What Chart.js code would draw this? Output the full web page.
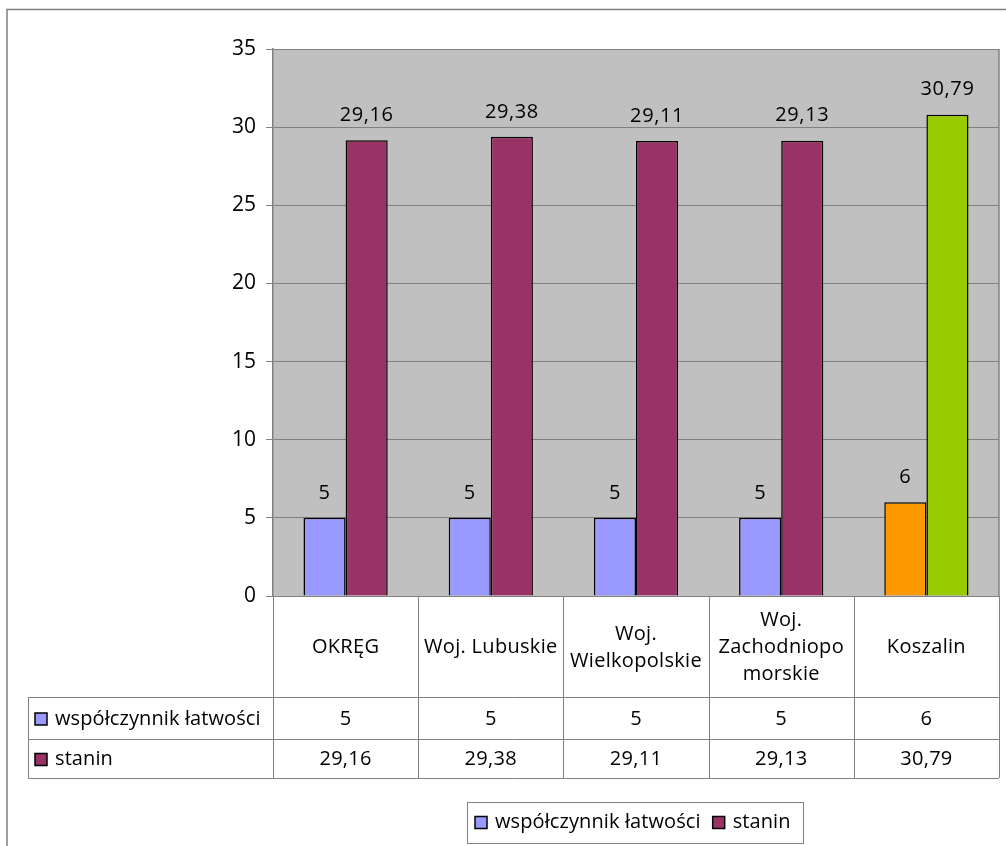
<!DOCTYPE html>
<html>
<head>
<meta charset="utf-8">
<script src="https://cdn.jsdelivr.net/npm/chart.js@4"></script>
<style>
  body { margin: 0; background: #fff; }
  #wrap { width: 1006px; height: 846px; position: relative; }
</style>
</head>
<body>
<div id="wrap"><canvas id="chart"></canvas></div>
<script>
// chart data
const categories = [
  ["OKRĘG"],
  ["Woj. Lubuskie"],
  ["Woj.", "Wielkopolskie"],
  ["Woj.", "Zachodniopo", "morskie"],
  ["Koszalin"],
];
const seriesNames = ["współczynnik łatwości", "stanin"];
const latwosc = [5, 5, 5, 5, 6];
const stanin = [29.16, 29.38, 29.11, 29.13, 30.79];
const yTicks = [0, 5, 10, 15, 20, 25, 30, 35];

const FONT = "'Open Sans', sans-serif";
const blue = "#9999FF";
const purple = "#993366";

// Polish decimal comma
function fmt(v) {
  return String(v).replace(".", ",");
}

// Excel-like extras: gray plot area, labels, data table, legend
const excelPlugin = {
  id: "excel",
  beforeDraw(chart) {
    const ctx = chart.ctx;
    const a = chart.chartArea;
    ctx.save();
    ctx.fillStyle = "#C0C0C0";
    ctx.fillRect(a.left, a.top, a.right - a.left, a.bottom - a.top);
    // outer chart border
    ctx.strokeStyle = "#808080";
    ctx.lineWidth = 1.5;
    ctx.strokeRect(7, 9.5, 1200, 1200);
    ctx.restore();
  },
  afterDraw(chart) {
    const ctx = chart.ctx;
    const a = chart.chartArea;
    const xs = chart.scales.x;
    const n = categories.length;
    const w = (a.right - a.left) / n;
    ctx.save();

    // right border of plot area
    ctx.strokeStyle = "#808080";
    ctx.lineWidth = 1.5;
    ctx.beginPath();
    ctx.moveTo(a.right, a.top);
    ctx.lineTo(a.right, a.bottom);
    ctx.stroke();

    // value labels above bars
    ctx.fillStyle = "#000";
    ctx.font = "20px " + FONT;
    ctx.letterSpacing = "0.6px";
    ctx.textAlign = "center";
    ctx.textBaseline = "middle";
    chart.data.datasets.forEach((ds, di) => {
      chart.getDatasetMeta(di).data.forEach((bar, i) => {
        ctx.fillText(fmt(ds.data[i]), bar.x, bar.y - 25);
      });
    });

    // data table
    const top = a.bottom;
    const catBottom = top + 101;
    const row1 = catBottom + 42;
    const row2 = row1 + 39;
    const tableLeft = 28;
    ctx.strokeStyle = "#808080";
    ctx.lineWidth = 1;
    ctx.beginPath();
    for (let i = 0; i <= n; i++) {
      const x = Math.round(a.left + i * w) + 0.5;
      ctx.moveTo(x, top);
      ctx.lineTo(x, row2);
    }
    ctx.moveTo(tableLeft + 0.5, catBottom);
    ctx.lineTo(tableLeft + 0.5, row2);
    [catBottom, row1, row2].forEach((y) => {
      ctx.moveTo(tableLeft, y + 0.5);
      ctx.lineTo(a.right, y + 0.5);
    });
    ctx.stroke();

    ctx.fillStyle = "#000";
    ctx.textAlign = "center";
    ctx.letterSpacing = "0.3px";
    const lineH = 27;
    categories.forEach((lines, i) => {
      const cx = xs.getPixelForValue(i);
      const cy = (top + catBottom) / 2 + 1;
      const y0 = cy - ((lines.length - 1) * lineH) / 2;
      lines.forEach((t, k) => ctx.fillText(t, cx, y0 + k * lineH));
      ctx.fillText(fmt(latwosc[i]), cx, (catBottom + row1) / 2 + 1);
      ctx.fillText(fmt(stanin[i]), cx, (row1 + row2) / 2 + 1);
    });

    // series keys in table
    const keyColors = [blue, purple];
    const rowMid = [(catBottom + row1) / 2 + 1, (row1 + row2) / 2 + 1];
    ctx.textAlign = "left";
    ctx.letterSpacing = "0.1px";
    seriesNames.forEach((name, s) => {
      const y = rowMid[s];
      ctx.fillStyle = keyColors[s];
      ctx.fillRect(35, y - 6, 12, 12);
      ctx.strokeStyle = "#000";
      ctx.lineWidth = 1.5;
      ctx.strokeRect(35, y - 6, 12, 12);
      ctx.fillStyle = "#000";
      ctx.fillText(name, 55, y);
    });

    // bottom legend
    const lx = 467, ly = 802, lw = 336, lh = 41;
    ctx.fillStyle = "#fff";
    ctx.fillRect(lx, ly, lw, lh);
    ctx.strokeStyle = "#808080";
    ctx.lineWidth = 1;
    ctx.strokeRect(lx + 0.5, ly + 0.5, lw, lh);
    let x = 475;
    const my = ly + lh / 2;
    seriesNames.forEach((name, s) => {
      ctx.fillStyle = keyColors[s];
      ctx.fillRect(x, my - 6, 12, 12);
      ctx.strokeStyle = "#000";
      ctx.lineWidth = 1.5;
      ctx.strokeRect(x, my - 6, 12, 12);
      ctx.fillStyle = "#000";
      ctx.fillText(name, x + 20, my);
      x += 20 + ctx.measureText(name).width + 12;
    });

    ctx.restore();
  },
};

new Chart(document.getElementById("chart"), {
  type: "bar",
  data: {
    labels: categories,
    datasets: [
      {
        label: seriesNames[0],
        data: latwosc,
        backgroundColor: [blue, blue, blue, blue, "#FF9900"],
        borderColor: "#000",
        borderWidth: 1.5,
      },
      {
        label: seriesNames[1],
        data: stanin,
        backgroundColor: [purple, purple, purple, purple, "#99CC00"],
        borderColor: "#000",
        borderWidth: 1.5,
      },
    ],
  },
  options: {
    responsive: true,
    maintainAspectRatio: false,
    animation: false,
    categoryPercentage: 0.58,
    barPercentage: 1,
    layout: { padding: { top: 49, right: 7, bottom: 250, left: 0 } },
    plugins: {
      legend: { display: false },
      tooltip: { enabled: false },
    },
    scales: {
      x: { display: false },
      y: {
        min: 0,
        max: 35,
        afterBuildTicks: (axis) => {
          axis.ticks = yTicks.map((v) => ({ value: v }));
        },
        afterFit: (axis) => {
          axis.width = 273;
        },
        ticks: {
          color: "#000",
          font: { family: FONT, size: 21 },
          padding: 10,
        },
        grid: { color: "#808080", lineWidth: 1, tickLength: 7 },
        border: { color: "#808080", width: 1.5 },
      },
    },
  },
  plugins: [excelPlugin],
});
</script>
</body>
</html>
